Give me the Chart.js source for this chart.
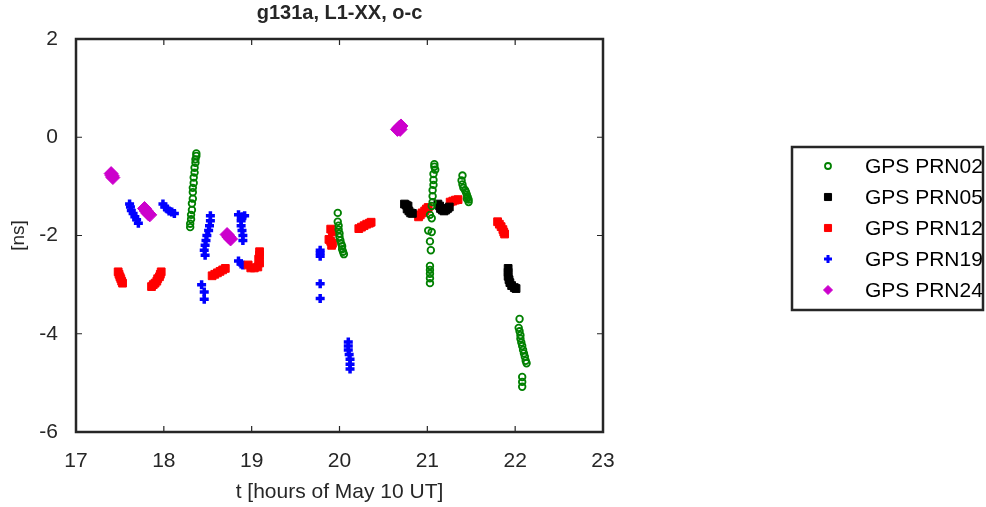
<!DOCTYPE html>
<html>
<head>
<meta charset="utf-8">
<script src="https://cdn.jsdelivr.net/npm/chart.js@4/dist/chart.umd.min.js"></script>
<style>
  html, body { margin: 0; padding: 0; background: #fff; }
  #wrap { width: 986px; height: 507px; }
</style>
</head>
<body>
<div id="wrap"><canvas id="plot" width="986" height="507"></canvas></div>
<script>
// values
const seriesNames = ["GPS PRN02", "GPS PRN05", "GPS PRN12", "GPS PRN19", "GPS PRN24"];
const xTicks = [17, 18, 19, 20, 21, 22, 23];
const yTicks = [-6, -4, -2, 0, 2];

const prn02T = [18.37, 18.37, 18.36, 18.36, 18.35, 18.35, 18.34, 18.34, 18.33, 18.33, 18.33, 18.32, 18.32, 18.31, 18.31, 18.30, 18.30,
  19.98, 19.98, 19.99, 19.99, 20.00, 20.00, 20.01, 20.02, 20.03, 20.03, 20.04, 20.05,
  21.08, 21.08, 21.09, 21.07, 21.07, 21.07, 21.06, 21.06, 21.06, 21.05, 21.03, 21.05, 21.01, 21.05, 21.03, 21.04, 21.03, 21.03, 21.03, 21.03, 21.03,
  21.40, 21.39, 21.40, 21.41, 21.43, 21.44, 21.45, 21.46, 21.47, 21.47, 21.45,
  22.05, 22.04, 22.05, 22.06, 22.06, 22.07, 22.08, 22.09, 22.10, 22.11, 22.12, 22.13, 22.08, 22.08, 22.08];
const prn02Y = [-0.33, -0.38, -0.45, -0.52, -0.62, -0.72, -0.82, -0.93, -1.03, -1.12, -1.25, -1.35, -1.48, -1.58, -1.67, -1.76, -1.83,
  -1.54, -1.72, -1.80, -1.88, -1.96, -2.03, -2.10, -2.17, -2.22, -2.28, -2.33, -2.38,
  -0.55, -0.60, -0.66, -0.75, -0.87, -0.97, -1.08, -1.20, -1.32, -1.40, -1.58, -1.65, -1.90, -1.93, -2.12, -2.30, -2.62, -2.70, -2.78, -2.87, -2.97,
  -0.78, -0.88, -0.96, -1.03, -1.08, -1.12, -1.17, -1.22, -1.27, -1.32, -1.25,
  -3.70, -3.88, -3.95, -4.03, -4.10, -4.18, -4.25, -4.33, -4.40, -4.47, -4.55, -4.60, -4.88, -4.98, -5.08];

const prn05T = [20.74, 20.76, 20.78, 20.77, 20.79, 20.81, 20.83,
  21.12, 21.14, 21.15, 21.17, 21.19, 21.21, 21.23, 21.25,
  21.92, 21.92, 21.92, 21.93, 21.94, 21.96, 21.99, 22.01];
const prn05Y = [-1.36, -1.38, -1.40, -1.46, -1.50, -1.54, -1.55,
  -1.36, -1.40, -1.45, -1.48, -1.50, -1.48, -1.45, -1.42,
  -2.67, -2.75, -2.83, -2.90, -2.96, -3.02, -3.06, -3.08];

const prn12T = [17.48, 17.49, 17.50, 17.51, 17.52, 17.53,
  17.97, 17.96, 17.95, 17.93, 17.92, 17.90, 17.88, 17.86,
  18.55, 18.58, 18.61, 18.64, 18.67, 18.70,
  18.96, 18.99, 19.03, 19.07, 19.09, 19.08, 19.09, 19.09,
  19.90, 19.92, 19.88, 19.90, 19.92, 19.91,
  20.22, 20.25, 20.28, 20.31, 20.34, 20.36,
  20.90, 20.92, 20.94, 20.97, 20.99, 21.01,
  21.26, 21.29, 21.32, 21.35,
  21.80, 21.82, 21.84, 21.86, 21.87, 21.88];
const prn12Y = [-2.74, -2.79, -2.84, -2.88, -2.93, -2.97,
  -2.74, -2.79, -2.84, -2.88, -2.93, -2.97, -3.00, -3.04,
  -2.82, -2.79, -2.76, -2.73, -2.70, -2.67,
  -2.60, -2.66, -2.66, -2.64, -2.56, -2.48, -2.40, -2.33,
  -1.87, -1.93, -2.08, -2.12, -2.16, -2.20,
  -1.86, -1.83, -1.80, -1.77, -1.75, -1.73,
  -1.62, -1.58, -1.54, -1.50, -1.46, -1.43,
  -1.32, -1.30, -1.28, -1.27,
  -1.72, -1.77, -1.82, -1.88, -1.93, -1.97];

const prn19T = [17.61, 17.62, 17.63, 17.65, 17.67, 17.69, 17.71,
  17.99, 18.01, 18.04, 18.06, 18.09, 18.12,
  18.53, 18.53, 18.52, 18.51, 18.49, 18.48, 18.47, 18.46, 18.47,
  18.43, 18.46, 18.46,
  18.85, 18.89, 18.92, 18.88, 18.88, 18.89, 18.90, 18.90,
  18.85, 18.88, 18.90,
  19.78, 19.78, 19.78, 19.78, 19.78,
  20.10, 20.10, 20.10, 20.11, 20.12, 20.12, 20.12];
const prn19Y = [-1.36, -1.42, -1.49, -1.55, -1.62, -1.68, -1.75,
  -1.36, -1.42, -1.46, -1.50, -1.52, -1.55,
  -1.60, -1.70, -1.80, -1.90, -2.00, -2.10, -2.20, -2.30, -2.40,
  -3.00, -3.15, -3.30,
  -1.58, -1.62, -1.60, -1.70, -1.80, -1.90, -2.00, -2.10,
  -2.52, -2.58, -2.60,
  -2.30, -2.36, -2.42, -2.98, -3.28,
  -4.17, -4.25, -4.33, -4.42, -4.52, -4.62, -4.72];

const prn24T = [17.40, 17.41, 17.42, 17.78, 17.80, 17.82, 17.84, 18.72, 18.74, 18.76, 20.66, 20.68, 20.70, 20.69];
const prn24Y = [-0.74, -0.78, -0.82, -1.45, -1.50, -1.55, -1.58, -1.98, -2.03, -2.07, 0.16, 0.20, 0.23, 0.16];

const ink = "#262626";
const font = "'Liberation Sans', Arial, sans-serif";

function pts(ts, ys) {
  return ts.map((t, i) => ({x: t, y: ys[i]}));
}

// marker look per series: data size, then legend size
const styles = [
  {color: "#008000", fill: "rgba(0,0,0,0)", pointStyle: "circle", radius: 3.3, borderWidth: 1.8, legendRadius: 3},
  {color: "#000000", fill: "#000000", pointStyle: "rect", radius: 5.5, borderWidth: 1, legendRadius: 5},
  {color: "#ff0000", fill: "#ff0000", pointStyle: "rect", radius: 5.5, borderWidth: 1, legendRadius: 5},
  {color: "#0000ff", fill: "#0000ff", pointStyle: "cross", radius: 4.5, borderWidth: 3.5, legendRadius: 4},
  {color: "#cc00cc", fill: "#cc00cc", pointStyle: "rectRot", radius: 7, borderWidth: 1, legendRadius: 4.5}
];
const seriesData = [pts(prn02T, prn02Y), pts(prn05T, prn05Y), pts(prn12T, prn12Y), pts(prn19T, prn19Y), pts(prn24T, prn24Y)];

const datasets = seriesNames.map((name, i) => ({
  label: name,
  data: seriesData[i],
  showLine: false,
  pointStyle: styles[i].pointStyle,
  pointRadius: styles[i].radius,
  pointBorderWidth: styles[i].borderWidth,
  pointBorderColor: styles[i].color,
  pointBackgroundColor: styles[i].fill
}));

const framePlugin = {
  id: "frame",
  afterDraw(chart) {
    const ctx = chart.ctx;
    const a = chart.chartArea;
    const xs = chart.scales.x, ys = chart.scales.y;
    const tl = 6;
    ctx.save();
    ctx.strokeStyle = ink;
    ctx.lineWidth = 1.2;
    ctx.beginPath();
    xTicks.forEach(v => {
      const px = xs.getPixelForValue(v);
      ctx.moveTo(px, a.bottom); ctx.lineTo(px, a.bottom - tl);
      ctx.moveTo(px, a.top); ctx.lineTo(px, a.top + tl);
    });
    yTicks.forEach(v => {
      const py = ys.getPixelForValue(v);
      ctx.moveTo(a.left, py); ctx.lineTo(a.left + tl, py);
      ctx.moveTo(a.right, py); ctx.lineTo(a.right - tl, py);
    });
    ctx.stroke();
    ctx.lineWidth = 2.5;
    ctx.strokeRect(a.left, a.top, a.right - a.left, a.bottom - a.top);

    // title
    ctx.fillStyle = ink;
    ctx.font = "bold 20px " + font;
    ctx.textAlign = "center";
    ctx.textBaseline = "middle";
    ctx.fillText("g131a, L1-XX, o-c", (a.left + a.right) / 2, 13);

    // legend
    const bx = 792, by = 147, bw = 191, bh = 163;
    ctx.fillStyle = "#fff";
    ctx.fillRect(bx, by, bw, bh);
    ctx.strokeStyle = ink;
    ctx.lineWidth = 2.5;
    ctx.strokeRect(bx, by, bw, bh);
    ctx.font = "21px " + font;
    ctx.textAlign = "left";
    seriesNames.forEach((name, i) => {
      const y = by + 19 + i * 31;
      const s = styles[i];
      ctx.fillStyle = s.fill;
      ctx.strokeStyle = s.color;
      ctx.lineWidth = s.pointStyle === "cross" ? 3 : (s.pointStyle === "circle" ? 1.8 : 1);
      Chart.helpers.drawPoint(ctx, {pointStyle: s.pointStyle, radius: s.legendRadius, rotation: 0, borderWidth: ctx.lineWidth}, 828, y);
      ctx.fillStyle = "#000";
      ctx.fillText(name, 865, y + 1);
    });
    ctx.restore();
  }
};

new Chart(document.getElementById("plot"), {
  type: "scatter",
  data: {datasets: datasets},
  options: {
    responsive: false,
    animation: false,
    layout: {padding: {left: 0, right: 383, top: 39, bottom: 0}},
    plugins: {legend: {display: false}, tooltip: {enabled: false}, title: {display: false}},
    scales: {
      x: {
        type: "linear", min: 17, max: 23,
        afterFit: s => { s.height = 75; },
        afterBuildTicks: s => { s.ticks = xTicks.map(v => ({value: v})); },
        grid: {display: false}, border: {display: false},
        ticks: {color: ink, font: {family: font, size: 21}, padding: 9},
        title: {display: true, text: "t [hours of May 10 UT]", color: ink, font: {family: font, size: 21}, padding: {top: 0, bottom: 2}}
      },
      y: {
        type: "linear", min: -6, max: 2,
        afterFit: s => { s.width = 76; },
        afterBuildTicks: s => { s.ticks = yTicks.map(v => ({value: v})); },
        grid: {display: false}, border: {display: false},
        ticks: {color: ink, font: {family: font, size: 21}, padding: 10},
        title: {display: true, text: "[ns]", color: ink, font: {family: font, size: 19}, padding: {top: 7, bottom: 0}}
      }
    }
  },
  plugins: [framePlugin]
});
</script>
</body>
</html>
